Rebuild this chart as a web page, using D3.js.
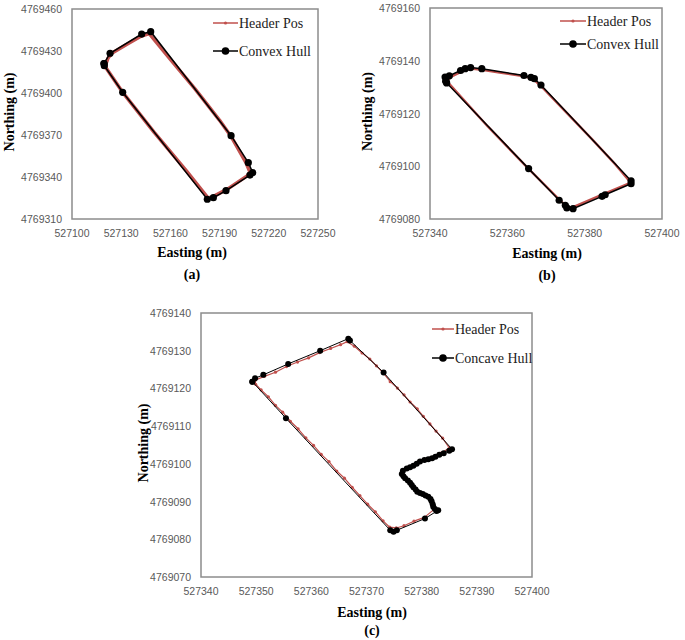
<!DOCTYPE html>
<html>
<head>
<meta charset="utf-8">
<script src="https://cdn.jsdelivr.net/npm/d3@7"></script>
<style>
  body { margin: 0; background: #fff; }
  .tick-label { font-family: "Liberation Sans", Arial, sans-serif; font-size: 10.5px; fill: #595959; }
  .title { font-family: "Liberation Serif", "Times New Roman", serif; font-weight: bold; font-size: 14px; fill: #000; }
  .legend { font-family: "Liberation Serif", "Times New Roman", serif; font-size: 14px; fill: #222; }
</style>
</head>
<body>
<div id="container"></div>
<script>
// ---- panel (a) ----
const aXTicks = [527100, 527130, 527160, 527190, 527220, 527250];
const aYTicks = [4769310, 4769340, 4769370, 4769400, 4769430, 4769460];
const aHeader = [
  [527120.5, 4769420], [527122, 4769425], [527124.5, 4769428.5], [527133, 4769434.5],
  [527142, 4769440.5], [527147, 4769442.5], [527160, 4769424], [527175, 4769403],
  [527190, 4769380.5], [527197, 4769369], [527206, 4769350.5], [527208.5, 4769343.5],
  [527207, 4769341], [527195, 4769331.5], [527186, 4769326], [527183, 4769325],
  [527170, 4769344], [527150, 4769372], [527131.5, 4769399.5], [527121, 4769417.5],
  [527120.5, 4769420]
];
const aHull = [
  [527119.5, 4769421], [527123.2, 4769428.4], [527142.5, 4769442.1], [527148, 4769443.8],
  [527197, 4769369.5], [527207.5, 4769350.2], [527210.2, 4769343.1], [527208.5, 4769341.4],
  [527193.9, 4769330.2], [527186.2, 4769325.2], [527182.5, 4769324.1], [527130.9, 4769400.5],
  [527119.7, 4769419.5], [527119.5, 4769421]
];

// ---- panel (b) ----
const bXTicks = [527340, 527360, 527380, 527400];
const bYTicks = [4769080, 4769100, 4769120, 4769140, 4769160];
const bHeader = [
  [527344.5, 4769132.5], [527345.5, 4769134], [527348, 4769135.8], [527350.5, 4769137],
  [527353.5, 4769136.6], [527358, 4769135.5], [527364, 4769134.2], [527366.5, 4769133.3],
  [527368.5, 4769130.7], [527375, 4769120.8], [527382, 4769110.1], [527388, 4769100.6],
  [527391.5, 4769094.5], [527391.5, 4769093.5], [527385, 4769089.5], [527377, 4769084.5],
  [527375.5, 4769084.5], [527373.5, 4769087.3], [527365.5, 4769099], [527355, 4769115],
  [527344.8, 4769131.5], [527344.5, 4769132.5]
];
const bHull = [
  [527344.1, 4769132.2], [527343.9, 4769133.8], [527345, 4769134.3], [527347.9, 4769136.3],
  [527349.1, 4769137], [527350.5, 4769137.4], [527353.4, 4769137], [527364.3, 4769134.4],
  [527366.1, 4769133.7], [527367, 4769133.2], [527368.7, 4769130.8], [527392, 4769094.5],
  [527392, 4769093.4], [527385.3, 4769089.2], [527384.5, 4769088.6], [527377, 4769083.9],
  [527375.4, 4769084.2], [527375, 4769085.2], [527373.4, 4769087.1], [527365.5, 4769099.1],
  [527344.3, 4769131.6], [527344.1, 4769132.2]
];

// ---- panel (c) ----
const cXTicks = [527340, 527350, 527360, 527370, 527380, 527390, 527400];
const cYTicks = [4769070, 4769080, 4769090, 4769100, 4769110, 4769120, 4769130, 4769140];
const cHeader = [
  [527349.8, 4769122.2], [527351.5, 4769123.2], [527353.5, 4769124.3], [527355.5, 4769125.8],
  [527357.5, 4769127], [527359.5, 4769128.1], [527361.5, 4769129.5], [527363.5, 4769130.6],
  [527365.3, 4769131.6], [527366.5, 4769132.4], [527367.8, 4769131.2], [527369.2, 4769129.4],
  [527370.6, 4769127.8], [527371.8, 4769126], [527373, 4769124.2], [527374.3, 4769121.8],
  [527375.6, 4769120.1], [527376.8, 4769118.3], [527377.9, 4769116.4], [527379.2, 4769114.6],
  [527380.3, 4769112.6], [527381.5, 4769110.6], [527382.6, 4769108.7], [527383.8, 4769106.8],
  [527385, 4769104.2], [527383.6, 4769102.9], [527381.6, 4769101.6], [527379.5, 4769100.7],
  [527377.3, 4769098.9], [527376.6, 4769097.3], [527377.8, 4769095.2], [527378.8, 4769093.3],
  [527380.6, 4769091.9], [527381.8, 4769090.1], [527382.3, 4769088], [527380.5, 4769085.8],
  [527378.6, 4769084.8], [527376.8, 4769083.6], [527375.4, 4769083], [527374.2, 4769083.2],
  [527373, 4769084.9], [527371.6, 4769087.3], [527370.2, 4769089.3], [527368.8, 4769091.6],
  [527367.4, 4769093.8], [527366, 4769096.2], [527364.6, 4769098.1], [527363.2, 4769100.6],
  [527361.8, 4769102.5], [527360.4, 4769104.9], [527359, 4769106.9], [527357.6, 4769109.3],
  [527356.2, 4769111.3], [527354.8, 4769113.7], [527353.5, 4769115.5], [527352.2, 4769117.8],
  [527350.9, 4769119.6], [527349.9, 4769121.1], [527349.8, 4769122.2]
];
const cHull = [
  [527349.3, 4769121.8], [527349.8, 4769122.7], [527351.3, 4769123.6], [527355.8, 4769126.5],
  [527361.6, 4769130], [527366.7, 4769133.2], [527367, 4769132.7], [527373.1, 4769124.2],
  [527385.5, 4769103.9], [527385, 4769103.5], [527384, 4769102.8], [527383.2, 4769102.4],
  [527382.5, 4769101.9], [527381.9, 4769101.5], [527381.2, 4769101.2], [527380.5, 4769101],
  [527379.7, 4769100.6], [527379.1, 4769100], [527378.5, 4769099.5], [527377.9, 4769099.1],
  [527377.3, 4769098.8], [527376.6, 4769098.2], [527376.4, 4769097.3], [527376.7, 4769096.7],
  [527377, 4769096.2], [527377.5, 4769095.6], [527377.9, 4769095], [527378.2, 4769094.4],
  [527378.5, 4769093.8], [527378.9, 4769093.2], [527379.2, 4769092.6], [527379.7, 4769092.3],
  [527380.2, 4769092], [527380.7, 4769091.6], [527381.2, 4769091.3], [527381.6, 4769090.7],
  [527381.8, 4769090.1], [527382, 4769089.3], [527382.1, 4769088.6], [527382.4, 4769088],
  [527382.7, 4769087.5], [527383, 4769087.7], [527380.6, 4769085.5], [527375.5, 4769082.4],
  [527374.9, 4769082], [527374.3, 4769082.4], [527355.4, 4769112.1], [527349.3, 4769121.8]
];

const panels = [
  { box: [72, 318, 9, 219], xDom: [527100, 527250], yDom: [4769310, 4769460],
    xTicks: aXTicks, yTicks: aYTicks, header: aHeader, hull: aHull,
    hullLabel: "Convex Hull", tag: "(a)", redW: 3.5, blackW: 1.5, hullR: 3.6, headR: 0,
    legend: [213, 238, 23, 51], ylabX: 9, xlabY: 257, tagY: 279, xlabCx: 192 },
  { box: [430, 662, 8, 219], xDom: [527340, 527400], yDom: [4769080, 4769160],
    xTicks: bXTicks, yTicks: bYTicks, header: bHeader, hull: bHull,
    hullLabel: "Convex Hull", tag: "(b)", redW: 2.4, blackW: 1.5, hullR: 3.6, headR: 0,
    legend: [560, 586, 21, 44], ylabX: 367, xlabY: 258, tagY: 280, xlabCx: 547 },
  { box: [201, 532, 313, 577], xDom: [527340, 527400], yDom: [4769070, 4769140],
    xTicks: cXTicks, yTicks: cYTicks, header: cHeader, hull: cHull,
    hullLabel: "Concave Hull", tag: "(c)", redW: 1.2, blackW: 1, hullR: 3, headR: 1.6,
    legend: [432, 454, 329, 358], ylabX: 143, xlabY: 617, tagY: 635, xlabCx: 372 }
];

const svg = d3.select('#container').append('svg')
  .attr('width', 685)
  .attr('height', 640);

const red = "#c0504d";

panels.forEach(p => {
  const [x0, x1, y0, y1] = p.box;
  const x = d3.scaleLinear().domain(p.xDom).range([x0, x1]);
  const y = d3.scaleLinear().domain(p.yDom).range([y1, y0]);
  const g = svg.append('g');

  // tick labels
  g.selectAll('text.xt').data(p.xTicks).join('text')
    .attr('class', 'tick-label')
    .attr('x', d => x(d)).attr('y', y1 + 14)
    .attr('text-anchor', 'middle').attr('dominant-baseline', 'central')
    .text(d => d);
  g.selectAll('text.yt').data(p.yTicks).join('text')
    .attr('class', 'tick-label')
    .attr('x', x0 - 10).attr('y', d => y(d))
    .attr('text-anchor', 'end').attr('dominant-baseline', 'central')
    .text(d => d);

  // header pos
  const line = d3.line().x(d => x(d[0])).y(d => y(d[1]));
  g.append('path').datum(p.header)
    .attr('d', line).attr('fill', 'none')
    .attr('stroke', red).attr('stroke-width', p.redW).attr('stroke-linejoin', 'round');
  if (p.headR > 0) {
    g.selectAll('circle.hp').data(p.header).join('circle')
      .attr('cx', d => x(d[0])).attr('cy', d => y(d[1])).attr('r', p.headR)
      .attr('fill', red);
  }

  // hull
  g.append('path').datum(p.hull)
    .attr('d', line).attr('fill', 'none')
    .attr('stroke', '#000').attr('stroke-width', p.blackW);
  g.selectAll('circle.hl').data(p.hull).join('circle')
    .attr('cx', d => x(d[0])).attr('cy', d => y(d[1])).attr('r', p.hullR)
    .attr('fill', '#000');

  // frame
  g.append('rect')
    .attr('x', x0).attr('y', y0).attr('width', x1 - x0).attr('height', y1 - y0)
    .attr('fill', 'none').attr('stroke', '#8c8c8c').attr('stroke-width', 1.5);

  // legend
  const [lx0, lx1, ly1, ly2] = p.legend;
  g.append('line').attr('x1', lx0).attr('x2', lx1).attr('y1', ly1).attr('y2', ly1)
    .attr('stroke', red).attr('stroke-width', 1.5);
  g.append('circle').attr('cx', (lx0 + lx1) / 2).attr('cy', ly1).attr('r', 1.6).attr('fill', red);
  g.append('text').attr('class', 'legend').attr('x', lx1 + 1).attr('y', ly1)
    .attr('dominant-baseline', 'central').text('Header Pos');
  g.append('line').attr('x1', lx0).attr('x2', lx1).attr('y1', ly2).attr('y2', ly2)
    .attr('stroke', '#000').attr('stroke-width', 1.5);
  g.append('circle').attr('cx', (lx0 + lx1) / 2).attr('cy', ly2).attr('r', 3.8).attr('fill', '#000');
  g.append('text').attr('class', 'legend').attr('x', lx1 + 1).attr('y', ly2)
    .attr('dominant-baseline', 'central').text(p.hullLabel);

  // titles
  g.append('text').attr('class', 'title')
    .attr('x', p.xlabCx).attr('y', p.xlabY).attr('text-anchor', 'middle')
    .text('Easting (m)');
  g.append('text').attr('class', 'title')
    .attr('x', p.xlabCx).attr('y', p.tagY).attr('text-anchor', 'middle')
    .text(p.tag);
  g.append('text').attr('class', 'title')
    .attr('transform', `translate(${p.ylabX},${(y0 + y1) / 2 - 2}) rotate(-90)`)
    .attr('text-anchor', 'middle').attr('dominant-baseline', 'central')
    .text('Northing (m)');
});
</script>
</body>
</html>
